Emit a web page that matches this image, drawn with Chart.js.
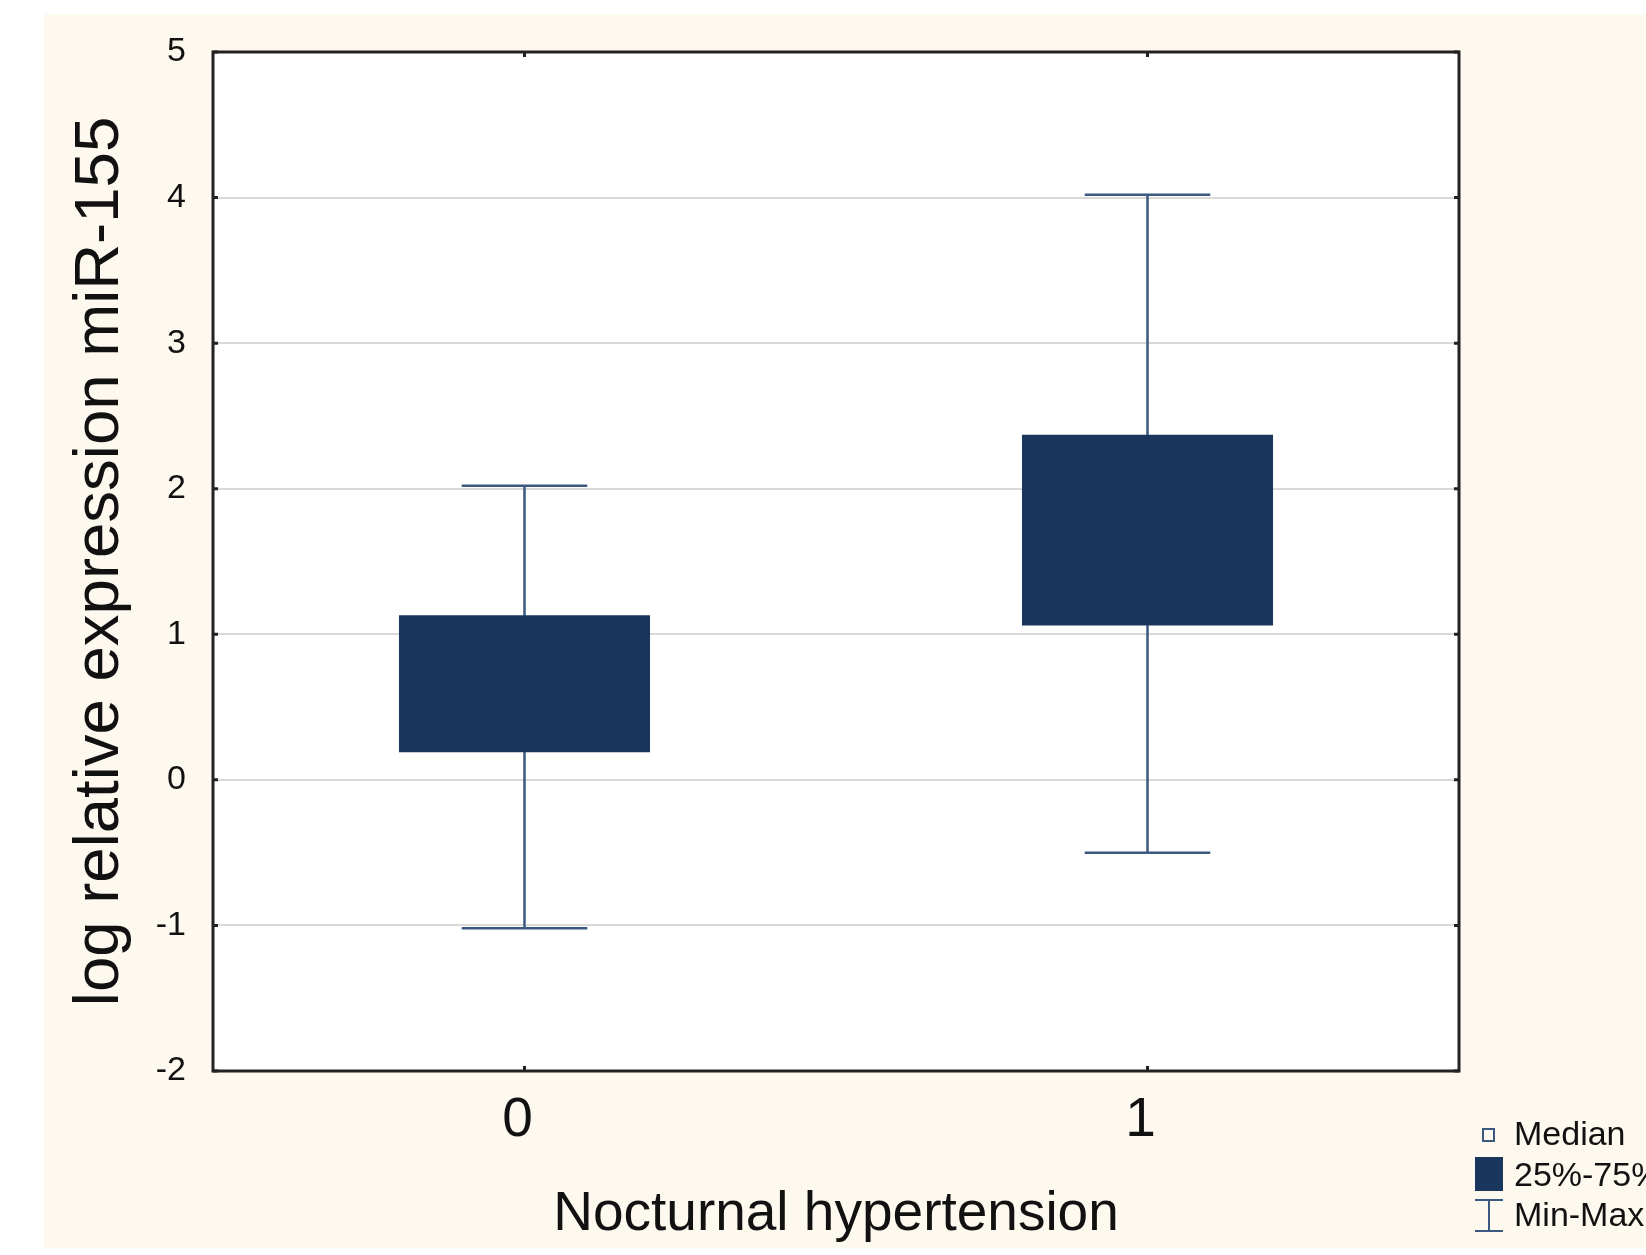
<!DOCTYPE html>
<html>
<head>
<meta charset="utf-8">
<script src="https://cdn.jsdelivr.net/npm/chart.js@4"></script>
<style>
    html, body { margin: 0; padding: 0; background: #ffffff; }
    body { width: 1646px; height: 1255px; position: relative; overflow: hidden; }
    #wrap { position: absolute; left: 44px; top: 14px; width: 1602px; height: 1234px; background: #fef9ef; }
    canvas { display: block; }
</style>
</head>
<body>
<div id="wrap"><canvas id="boxChart" width="1602" height="1234"></canvas></div>
<script>
// values
const categories = ['0', '1'];
const lowerQuartile = [0.19, 1.06];
const upperQuartile = [1.13, 2.37];
const minValues = [-1.02, -0.50];
const maxValues = [2.02, 4.02];
const yTickValues = [-2, -1, 0, 1, 2, 3, 4, 5];
const legendLabels = ['Median', '25%-75%', 'Min-Max'];

const boxColor = '#1a365c';
const whiskerColor = '#3a5880';
const fontFamily = "'Liberation Sans', Arial, sans-serif";

// white plot area behind everything
const plotBackground = {
    id: 'plotBackground',
    beforeDraw(chart) {
        const { ctx, chartArea: a } = chart;
        ctx.save();
        ctx.fillStyle = '#ffffff';
        ctx.fillRect(a.left, a.top, a.right - a.left, a.bottom - a.top);
        ctx.restore();
    }
};

// min-max whiskers, drawn under the boxes
const whiskers = {
    id: 'whiskers',
    beforeDatasetsDraw(chart) {
        const { ctx, scales } = chart;
        const bars = chart.getDatasetMeta(0).data;
        ctx.save();
        ctx.strokeStyle = whiskerColor;
        ctx.lineWidth = 2.5;
        categories.forEach((c, i) => {
            const x = scales.x.getPixelForValue(i);
            const half = bars[i].width / 4;
            const yMin = scales.y.getPixelForValue(minValues[i]);
            const yMax = scales.y.getPixelForValue(maxValues[i]);
            ctx.beginPath();
            ctx.moveTo(x, yMin);
            ctx.lineTo(x, yMax);
            ctx.moveTo(x - half, yMin);
            ctx.lineTo(x + half, yMin);
            ctx.moveTo(x - half, yMax);
            ctx.lineTo(x + half, yMax);
            ctx.stroke();
        });
        ctx.restore();
    }
};

// frame with small inward tick marks on all four sides
const frame = {
    id: 'frame',
    afterDatasetsDraw(chart) {
        const { ctx, chartArea: a, scales } = chart;
        const tl = 5;
        ctx.save();
        ctx.strokeStyle = '#222222';
        ctx.lineWidth = 3;
        ctx.strokeRect(a.left, a.top, a.right - a.left, a.bottom - a.top);
        ctx.beginPath();
        yTickValues.forEach(v => {
            const y = scales.y.getPixelForValue(v);
            ctx.moveTo(a.left, y); ctx.lineTo(a.left + tl, y);
            ctx.moveTo(a.right, y); ctx.lineTo(a.right - tl, y);
        });
        categories.forEach((c, i) => {
            const x = scales.x.getPixelForValue(i);
            ctx.moveTo(x, a.top); ctx.lineTo(x, a.top + tl);
            ctx.moveTo(x, a.bottom); ctx.lineTo(x, a.bottom - tl);
        });
        ctx.stroke();
        ctx.restore();
    }
};

// Statistica style legend in the lower right corner
const cornerLegend = {
    id: 'cornerLegend',
    afterDraw(chart) {
        const ctx = chart.ctx;
        const x0 = 1431, tx = 1470;
        const rows = [1121, 1160, 1201];
        ctx.save();
        ctx.fillStyle = '#111';
        ctx.font = '34px ' + fontFamily;
        ctx.textBaseline = 'middle';
        ctx.textAlign = 'left';
        ctx.fillText(legendLabels[0], tx, rows[0] + 1);
        ctx.fillText(legendLabels[1], tx, rows[1] + 3);
        ctx.fillText(legendLabels[2], tx, rows[2] + 2);

        ctx.strokeStyle = whiskerColor;
        ctx.lineWidth = 2;
        ctx.strokeRect(x0 + 8, rows[0] - 6, 11, 12);

        ctx.fillStyle = boxColor;
        ctx.fillRect(x0, rows[1] - 17, 28, 34);

        ctx.beginPath();
        ctx.moveTo(x0, rows[2] - 15); ctx.lineTo(x0 + 28, rows[2] - 15);
        ctx.moveTo(x0 + 14, rows[2] - 15); ctx.lineTo(x0 + 14, rows[2] + 16);
        ctx.moveTo(x0, rows[2] + 16); ctx.lineTo(x0 + 28, rows[2] + 16);
        ctx.stroke();
        ctx.restore();
    }
};

const ctx = document.getElementById('boxChart').getContext('2d');
const boxChart = new Chart(ctx, {
    type: 'bar',
    data: {
        labels: categories,
        datasets: [{
            label: '25%-75%',
            data: lowerQuartile.map((q, i) => [q, upperQuartile[i]]),
            backgroundColor: boxColor,
            borderColor: boxColor,
            borderWidth: 0,
            borderSkipped: false,
            categoryPercentage: 1,
            barPercentage: 0.403
        }]
    },
    options: {
        responsive: false,
        devicePixelRatio: 1,
        animation: false,
        layout: {
            padding: { top: 38, right: 187, bottom: 0, left: 0 }
        },
        plugins: {
            legend: { display: false },
            tooltip: { enabled: false }
        },
        scales: {
            x: {
                type: 'category',
                offset: true,
                grid: { display: false, drawTicks: false },
                border: { display: false },
                ticks: {
                    color: '#111',
                    padding: 17,
                    labelOffset: -7,
                    font: { family: fontFamily, size: 55 }
                },
                title: {
                    display: true,
                    text: 'Nocturnal hypertension',
                    color: '#111',
                    padding: { top: 16, bottom: 0 },
                    font: { family: fontFamily, size: 55 }
                },
                afterFit(scale) { scale.height = 177; }
            },
            y: {
                min: -2,
                max: 5,
                afterBuildTicks(scale) {
                    scale.ticks = yTickValues.map(v => ({ value: v }));
                },
                grid: {
                    drawTicks: false,
                    lineWidth: 2,
                    color: (c) => (c.tick && (c.tick.value === -2 || c.tick.value === 5)) ? 'rgba(0,0,0,0)' : '#d9d9d9'
                },
                border: { display: false },
                ticks: {
                    color: '#111',
                    padding: 27,
                    font: { family: fontFamily, size: 34 }
                },
                title: {
                    display: true,
                    text: 'log relative expression miR-155',
                    color: '#111',
                    padding: { top: 18, bottom: 0 },
                    font: { family: fontFamily, size: 63.5 }
                },
                afterFit(scale) {
                    scale.width = 169;
                    scale.paddingTop = 20;
                    scale.paddingBottom = 20;
                }
            }
        }
    },
    plugins: [plotBackground, whiskers, frame, cornerLegend]
});
</script>
</body>
</html>
